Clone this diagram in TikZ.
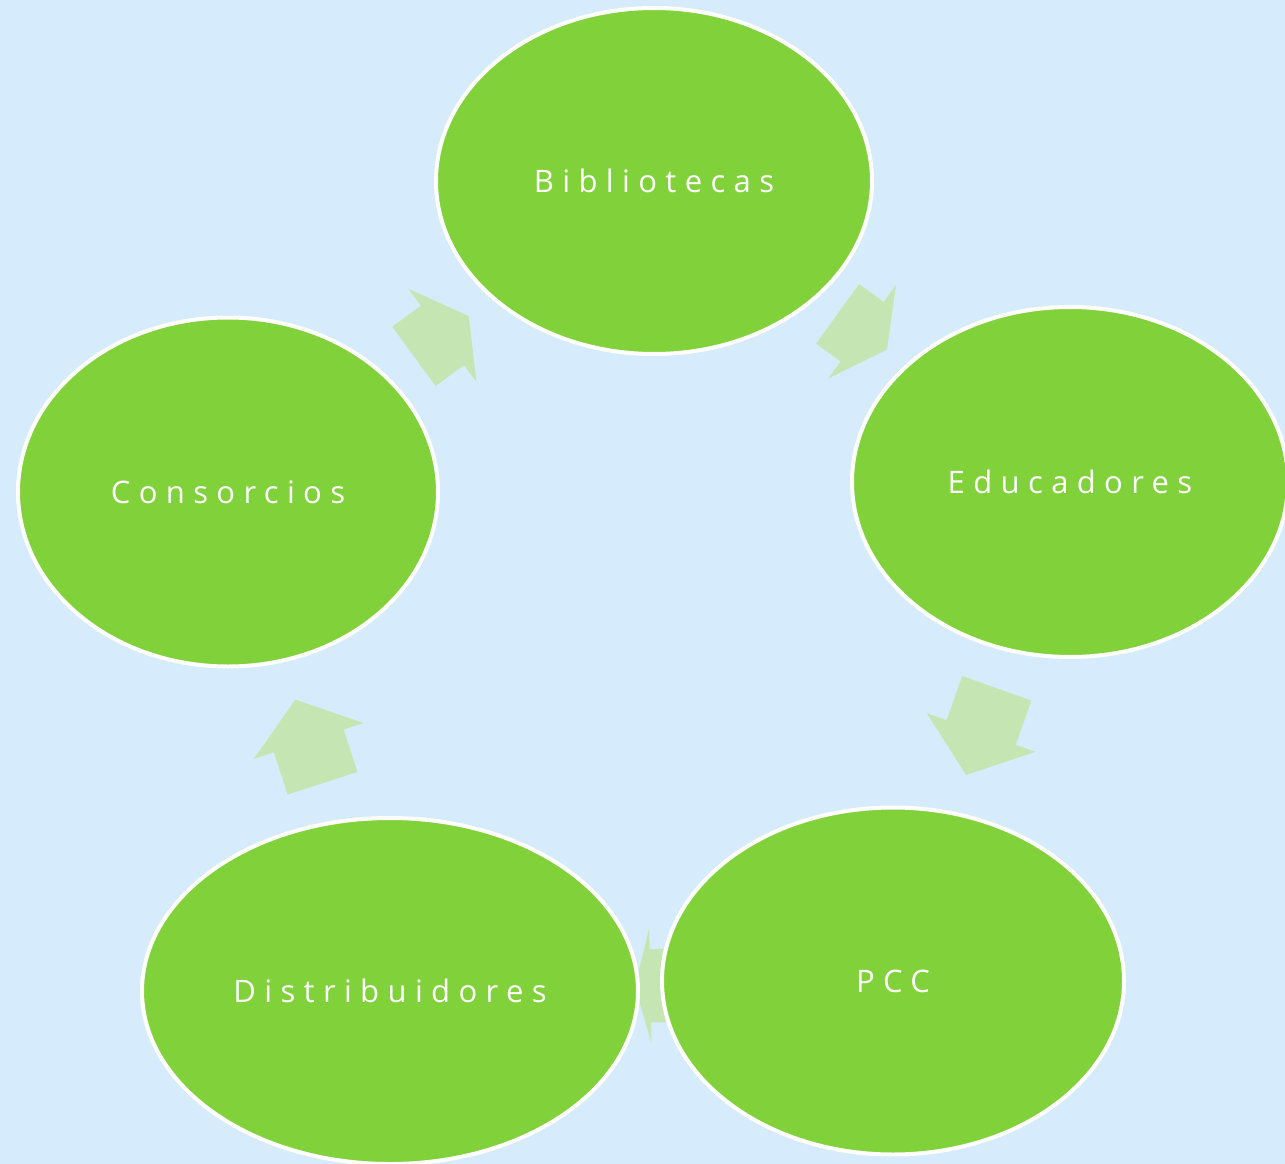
\documentclass[tikz,border=0pt]{standalone}
\usepackage{fontspec}
\setsansfont[LetterSpace=27]{Open Sans}
\usetikzlibrary{shapes.geometric,shapes.arrows}
\definecolor{bgblue}{RGB}{214,236,253}
\definecolor{partnergreen}{RGB}{129,209,59}
\definecolor{arrowgreen}{RGB}{197,230,178}
\tikzset{
  partner/.style={ellipse, fill=partnergreen, draw=white, line width=4pt,
    text=white, inner sep=0pt, font=\sffamily\fontsize{31}{36}\selectfont},
  cyclearrow/.style={single arrow, fill=arrowgreen, draw=none, inner xsep=0pt,
    inner ysep=36.5pt, single arrow head extend=21pt, anchor=tail,
    sloped, allow upside down}
}

\begin{document}
\begin{tikzpicture}[x=1pt,y=-1pt]

  \fill[bgblue] (0,0) rectangle (1285,1164);
  \useasboundingbox (0,0) rectangle (1285,1164);
  \clip (0,0) rectangle (1285,1164);

  % centres of the cycle
  \coordinate (bibc) at (654,181);
  \coordinate (educ) at (1070,482);
  \coordinate (pccc) at (893,981);
  \coordinate (disc) at (390,991);
  \coordinate (conc) at (228,492);

  % arrows first, the ellipses go over them
  \foreach \from/\to/\len/\tip/\where in
    {conc/bibc/68/121/0.436, bibc/educ/61/124/0.441, educ/pccc/92/104/0.413,
     pccc/disc/30/150/0.453, disc/conc/88/106/0.416}
    \path (\from) -- node[cyclearrow, pos=\where, minimum height=\len pt,
      single arrow tip angle=\tip] {} (\to);

  \node[partner, minimum width=436pt, minimum height=346pt] (bib) at (bibc) {Bibliotecas};
  \node[partner, minimum width=436pt, minimum height=350pt] (edu) at (educ) {Educadores};
  \node[partner, minimum width=462pt, minimum height=347pt] (pcc) at (pccc) {PCC};
  \node[partner, minimum width=496pt, minimum height=346pt] (dis) at (disc) {Distribuidores};
  \node[partner, minimum width=420pt, minimum height=349pt] (con) at (conc) {Consorcios};

\end{tikzpicture}
\end{document}
